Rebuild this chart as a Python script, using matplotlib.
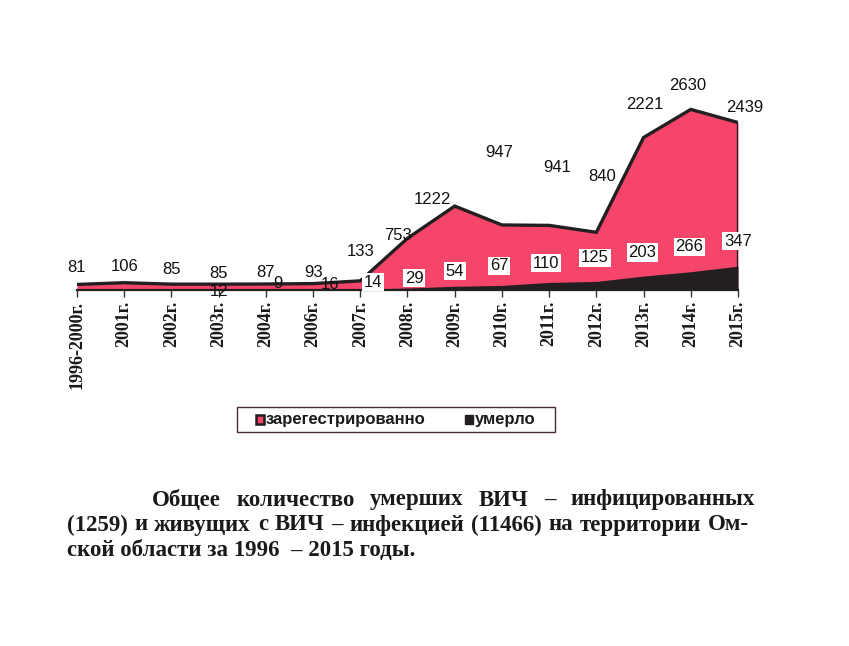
import numpy as np
import matplotlib
matplotlib.use("Agg")
import matplotlib.pyplot as plt
from matplotlib.patches import Rectangle

# Data
years = ["1996-2000г.", "2001г.", "2002г.", "2003г.", "2004г.", "2006г.", "2007г.",
         "2008г.", "2009г.", "2010г.", "2011г.", "2012г.", "2013г.", "2014г.", "2015г."]
registered = [81, 106, 85, 85, 87, 93, 133, 753, 1222, 947, 941, 840, 2221, 2630, 2439]
died = [2, 2, 3, 12, 9, 16, 14, 29, 54, 67, 110, 125, 203, 266, 347]
died_shown = [False, False, False] + [True] * 12
legend_labels = ["зарегестрированно", "умерло"]

# label offsets in points (style only)
reg_off = [(0, 12), (0, 11.5), (0, 10.5), (0, 8), (0, 8), (0, 8), (0, 21),
           (-7, 2), (-16, 5), (-2, 52), (6, 42), (4, 40), (1, 24), (-2, 17), (5, 11)]
died_off = [None, None, None, (0, -2), (9, 4), (12, 3), (9, 5),
            (5, 7), (0, 11), (-2, 14), (-2, 14), (-1, 17), (-1, 17), (-1, 18), (0, 18)]

PINK = "#f5456b"
DARK = "#231f20"
W, H = 849, 646

fig = plt.figure(figsize=(W / 100, H / 100), dpi=100)
ax = fig.add_axes([77 / W, 1 - 290 / H, 661 / W, 206 / H])

x = np.arange(len(years))
ax.fill_between(x, registered, color=PINK, zorder=2, linewidth=0)
ax.plot(x, registered, color=DARK, lw=2.4, zorder=3, solid_joinstyle="miter")
ax.plot([x[-1], x[-1]], [0, registered[-1]], color=DARK, lw=2.4, zorder=3)
ax.fill_between(x, died, color=DARK, zorder=4, linewidth=0)

for i, v in enumerate(registered):
    ax.annotate(str(v), (x[i], v), xytext=reg_off[i], textcoords="offset points",
                ha="center", va="center", fontsize=12, family="Liberation Sans",
                color="#111111", zorder=6)

for i, v in enumerate(died):
    if not died_shown[i]:
        continue
    box = None
    if i >= 6:
        box = dict(boxstyle="square,pad=0.1", fc="white", ec="none")
    ax.annotate(str(v), (x[i], v), xytext=died_off[i], textcoords="offset points",
                ha="center", va="center", fontsize=12, family="Liberation Sans",
                color="#111111", bbox=box, zorder=7)

ax.set_xlim(0, len(years) - 1)
ax.set_ylim(0, 3000)
for s in ["top", "right", "left"]:
    ax.spines[s].set_visible(False)
ax.spines["bottom"].set_color(DARK)
ax.spines["bottom"].set_linewidth(1.6)
ax.spines["bottom"].set_zorder(5)
ax.set_yticks([])
ax.set_xticks(x)
ax.set_xticklabels(years, rotation=90, fontsize=13, family="Liberation Serif",
                   fontweight="bold", color="#1a1a1a")
ax.tick_params(axis="x", direction="out", length=5, width=1, color="#333333", pad=3)

# legend drawn by hand so the box matches
fig.patches.append(Rectangle((237 / W, 1 - 432 / H), 318 / W, 25 / H,
                             transform=fig.transFigure, fc="white", ec="#4a2a2a",
                             lw=1.0))
leg_font = dict(family="Liberation Sans", fontweight="bold", fontsize=12,
                color="#1a1a1a", va="center", ha="left")
yc = 1 - 419.5 / H
fig.patches.append(Rectangle((256 / W, yc - 4.5 / H), 8 / W, 9 / H,
                             transform=fig.transFigure, fc=PINK, ec=DARK, lw=1.8))
fig.text(266 / W, yc, legend_labels[0], **leg_font)
fig.patches.append(Rectangle((465 / W, yc - 4.5 / H), 8 / W, 9 / H,
                             transform=fig.transFigure, fc=DARK, ec=DARK, lw=1.0))
fig.text(475 / W, yc, legend_labels[1], **leg_font)

# caption, justified by hand
caption = [
    ("Общее количество умерших ВИЧ – инфицированных", 152, 755, 500),
    ("(1259) и живущих с ВИЧ – инфекцией (11466) на территории Ом-", 67, 749, 525),
    ("ской области за 1996  – 2015 годы.", 67, None, 551),
]
fig.canvas.draw()
renderer = fig.canvas.get_renderer()
cap_font = dict(family="Liberation Serif", fontweight="bold", fontsize=16.5,
                color="#1a1a1a")
for line, x0, x1, y0 in caption:
    if x1 is None:
        fig.text(x0 / W, 1 - y0 / H, line, ha="left", va="center", **cap_font)
        continue
    words = line.split()
    texts = [fig.text(0, 1 - y0 / H, w, ha="left", va="center", **cap_font)
             for w in words]
    widths = [t.get_window_extent(renderer).width for t in texts]
    gap = (x1 - x0 - sum(widths)) / (len(words) - 1)
    pos = x0
    for t, w in zip(texts, widths):
        t.set_x(pos / W)
        pos += w + gap

fig.savefig("out.png", dpi=100)
